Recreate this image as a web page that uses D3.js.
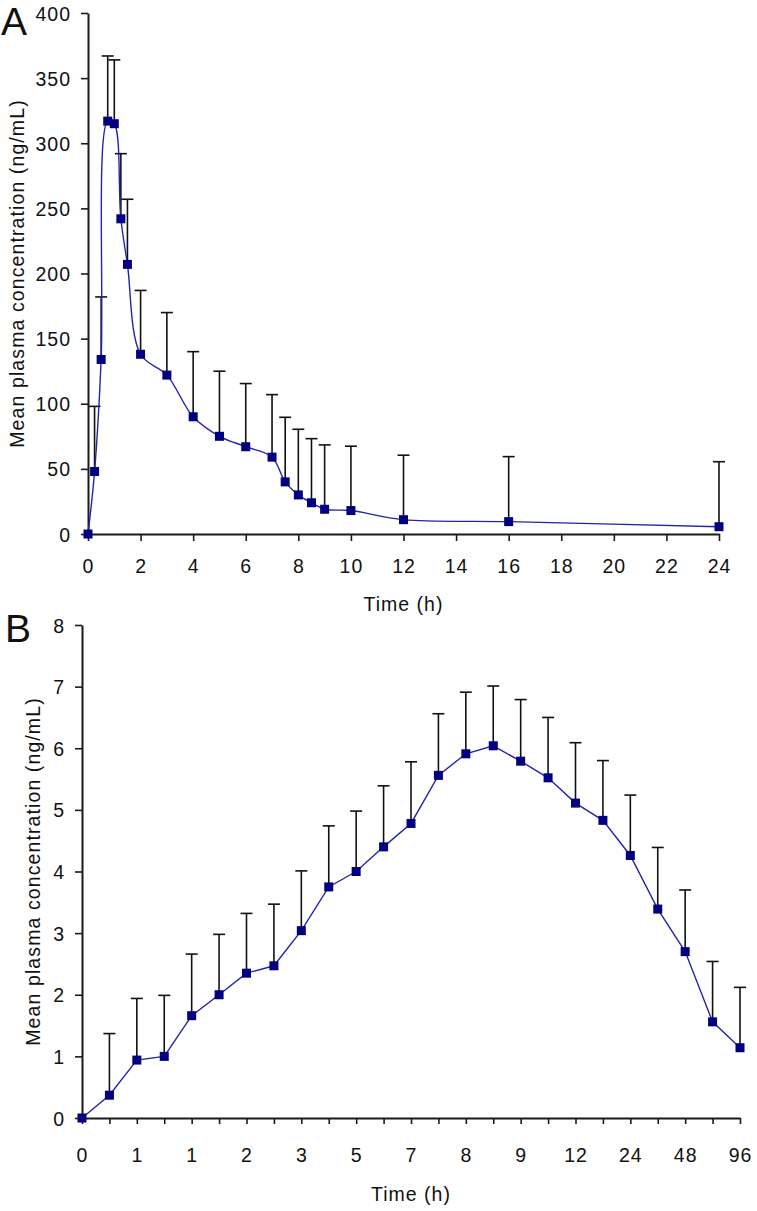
<!DOCTYPE html>
<html><head><meta charset="utf-8">
<script src="https://cdn.jsdelivr.net/npm/d3@7"></script>
<style>
body{margin:0;background:#fff}
svg{display:block}
text{font-family:"Liberation Sans",Arial,sans-serif;fill:#111}
</style>
</head><body>
<svg id="chart" width="757" height="1211"></svg>
<script>
// ---------- Panel A data ----------
const timeA = [0, 0.25, 0.5, 0.75, 1, 1.25, 1.5, 2, 3, 4, 5, 6, 7, 7.5, 8, 8.5, 9, 10, 12, 16, 24];
const meanA = [0, 48, 134, 317, 315, 242, 207, 138, 122, 90, 75, 67, 59, 40, 30, 24, 19, 18, 11, 9.5, 5.6];
const sdA   = [0, 50, 48, 50, 49, 50, 50, 49, 48, 50, 50, 48.5, 48, 49.6, 50.4, 49.2, 49.4, 49.4, 49.5, 49.9, 49.9];
const yTicksA = [0, 50, 100, 150, 200, 250, 300, 350, 400];
const xTicksA = [0, 2, 4, 6, 8, 10, 12, 14, 16, 18, 20, 22, 24];

// ---------- Panel B data ----------
const xLabelsB = ["0", "1", "1", "2", "3", "5", "7", "8", "9", "12", "24", "48", "96"];
const meanB = [0, 0.37, 0.94, 1.0, 1.66, 2.0, 2.35, 2.47, 3.04, 3.75, 4.0, 4.40, 4.78, 5.56, 5.91, 6.04, 5.79, 5.52, 5.11, 4.83, 4.26, 3.39, 2.70, 1.56, 1.14];
const sdB   = [0, 1.0, 1.0, 0.99, 1.0, 0.98, 0.97, 1.0, 0.97, 0.99, 0.98, 0.99, 1.0, 1.0, 1.0, 0.97, 1.0, 0.98, 0.98, 0.97, 0.98, 1.0, 1.0, 0.98, 0.98];
const yTicksB = [0, 1, 2, 3, 4, 5, 6, 7, 8];

const yTitle = "Mean plasma concentration (ng/mL)";
const xTitle = "Time (h)";

const svg = d3.select("#chart");
const FS = 19.5, LS = 1;
const lineColor = "#2424a8", markColor = "#000080";

function styleAxis(g){
  g.select(".domain").attr("stroke","#1a1a1a").attr("stroke-width",2);
  g.selectAll(".tick line").attr("stroke","#1a1a1a").attr("stroke-width",1.6);
  g.selectAll(".tick text").attr("font-size",FS).attr("letter-spacing",LS)
    .attr("fill","#111").attr("font-family",'"Liberation Sans",Arial,sans-serif');
}

function panel(cfg){
  const g = svg.append("g");
  const {x, y, xs, ys, sds, curve} = cfg;
  // error bars
  const eb = g.append("g").attr("stroke","#111").attr("stroke-width",1.6);
  xs.forEach((xv,i)=>{
    if(!sds[i]) return;
    const px = x(xv), py = y(ys[i]), pt = y(ys[i]+sds[i]);
    eb.append("line").attr("x1",px).attr("x2",px).attr("y1",py).attr("y2",pt);
    eb.append("line").attr("x1",px-6).attr("x2",px+6).attr("y1",pt).attr("y2",pt);
  });
  // axes
  const ya = g.append("g").attr("transform",`translate(${cfg.axX},0)`)
    .call(d3.axisLeft(y).tickValues(cfg.yTicks).tickSize(7).tickPadding(10).tickSizeOuter(0));
  styleAxis(ya);
  ya.selectAll(".tick text").attr("dy","0.36em");
  const xa = g.append("g").attr("transform",`translate(0,${cfg.axY})`)
    .call(cfg.xAxis);
  styleAxis(xa);
  // line
  g.append("path").datum(xs.map((xv,i)=>[x(xv), y(ys[i])]))
    .attr("fill","none").attr("stroke",lineColor).attr("stroke-width",1.4)
    .attr("d", d3.line().curve(curve));
  // markers
  g.append("g").selectAll("rect").data(xs.map((xv,i)=>[x(xv),y(ys[i])])).join("rect")
    .attr("x",d=>d[0]-4.5).attr("y",d=>d[1]-4.5).attr("width",9).attr("height",9)
    .attr("fill",markColor);
  // titles
  g.append("text").attr("transform",`translate(${cfg.yTitleX},${(y.range()[0]+y.range()[1])/2}) rotate(-90)`)
    .attr("text-anchor","middle").attr("font-size",FS).attr("letter-spacing",1.1).text(yTitle);
  g.append("text").attr("x",(x.range()[0]+x.range()[1])/2).attr("y",cfg.xTitleY)
    .attr("text-anchor","middle").attr("font-size",FS).attr("letter-spacing",LS).text(xTitle);
  g.append("text").attr("x",cfg.letterX).attr("y",cfg.letterY).attr("font-size",39).text(cfg.letter);
}

// Panel A
const xA = d3.scaleLinear().domain([0,24]).range([88,719]);
const yA = d3.scaleLinear().domain([0,400]).range([534,13]);
panel({
  x:xA, y:yA, xs:timeA, ys:meanA, sds:sdA, curve:d3.curveCatmullRom.alpha(0.5),
  axX:88, axY:534, yTicks:yTicksA,
  xAxis:d3.axisBottom(xA).tickValues(xTicksA).tickSize(7).tickPadding(18).tickSizeOuter(0),
  yTitleX:24, xTitleY:611, letter:"A", letterX:1, letterY:35
});

// Panel B
const idxB = d3.range(meanB.length);
const xB = d3.scalePoint().domain(idxB).range([82,740]);
const yB = d3.scaleLinear().domain([0,8]).range([1118,625]);
panel({
  x:xB, y:yB, xs:idxB, ys:meanB, sds:sdB, curve:d3.curveLinear,
  axX:82, axY:1118, yTicks:yTicksB,
  xAxis:d3.axisBottom(xB).tickSize(6).tickPadding(24).tickSizeOuter(0)
    .tickFormat(i => i % 2 === 0 ? xLabelsB[i/2] : ""),
  yTitleX:40, xTitleY:1201, letter:"B", letterX:5, letterY:642
});
</script>
</body></html>
